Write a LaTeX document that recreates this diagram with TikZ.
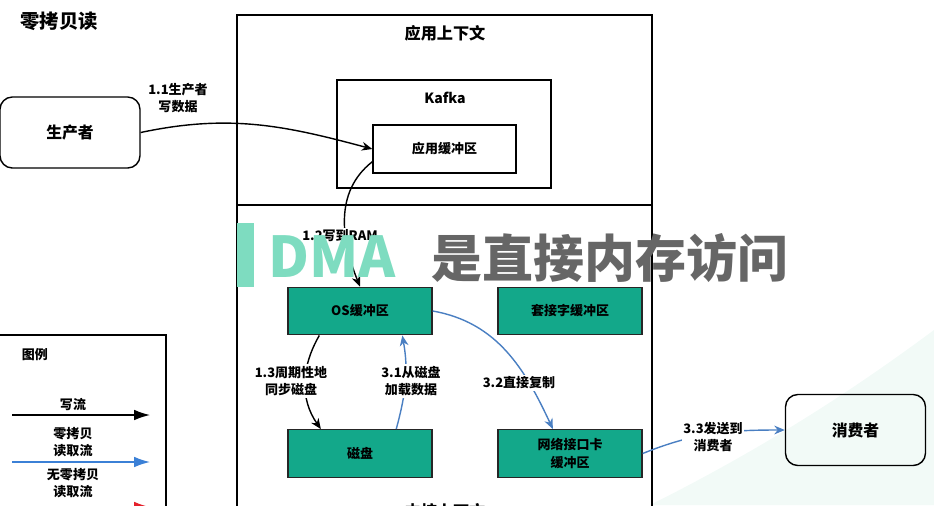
\documentclass[tikz,border=0pt]{standalone}
\usepackage{fontspec}
\setmainfont{Noto Sans CJK SC}
\usepackage{xcolor}
\usetikzlibrary{shapes,positioning,arrows.meta}
\definecolor{bufgreen}{HTML}{13A88A}
\definecolor{readblue}{HTML}{4A7FC2}
\definecolor{legblue}{HTML}{3B80D6}
\definecolor{legred}{HTML}{E5202A}
\definecolor{dmagreen}{HTML}{7EDCC0}
\definecolor{dmagrey}{HTML}{666666}
\definecolor{bgmint}{HTML}{F2FAF7}
\tikzset{
  box/.style={rectangle,draw,line width=0.8pt,inner sep=0pt},
  actor/.style={rectangle,rounded corners=7pt,draw,line width=0.8pt,minimum width=2.8cm,minimum height=1.42cm,font=\fontsize{9}{11}\selectfont\bfseries},
  buf/.style={rectangle,draw=black!85,fill=bufgreen,line width=0.8pt,minimum width=2.88cm,minimum height=0.95cm,align=center,font=\fontsize{7.4}{10}\selectfont\bfseries},
  lbl/.style={fill=white,inner sep=1pt,align=center,font=\fontsize{7.4}{10}\selectfont\bfseries},
  title/.style={font=\fontsize{9.2}{11}\selectfont\bfseries}
}
\begin{document}
\begin{tikzpicture}[>={Stealth[length=6pt,width=5pt]},x=0.02cm,y=-0.02cm,line width=0.8pt]
        \useasboundingbox (0,0) rectangle (934,505);
        \clip (0,0) rectangle (934,505);
        \fill[bgmint] (650,505) .. controls (770,445) and (860,385) .. (934,330) -- (934,505) -- cycle;

        % contexts
        \node[box,minimum width=8.3cm,minimum height=3.8cm] (app) at (444.5,110) {};
        \node[box,minimum width=8.3cm,minimum height=7.1cm] (kernel) at (444.5,382.5) {};
        \node[title] (apptitle) at (445,33) {应用上下文};
        \node[title] (kerneltitle) at (445,511) {内核上下文};
        \node[box,minimum width=4.28cm,minimum height=2.16cm] (kafka) at (444,134) {};
        \node[font=\fontsize{8}{10}\selectfont\bfseries] (kafkatitle) at (445,98) {Kafka};
        \node[box,minimum width=2.86cm,minimum height=0.96cm,font=\fontsize{7.4}{10}\selectfont\bfseries] (appbuf) at (444.5,149) {应用缓冲区};

        % buffers
        \node[buf] (os) at (360,311) {OS缓冲区};
        \node[buf] (sock) at (570,311) {套接字缓冲区};
        \node[buf] (disk) at (360,453.5) {磁盘};
        \node[buf] (nic) at (570,453.5) {网络接口卡\\缓冲区};

        % actors
        \node[actor] (prod) at (70,132.5) {生产者};
        \node[actor] (cons) at (855.5,430) {消费者};
        \node[font=\fontsize{11}{13}\selectfont\bfseries] (maintitle) at (59,21) {零拷贝读};

        % flows
        \draw [->] (prod.east) to [out=12,in=165] (appbuf.west);
        \draw [->] (appbuf.190) to [out=218,in=112] (os.north);
        \draw [->] (os.211) to [out=240,in=125] (disk.148);
        \draw [->,readblue] (disk.34) to [out=75,in=-80] (os.330);
        \draw [->,readblue] (os.east) to [out=-10,in=115] (nic.125);
        \draw [->,readblue] (nic.east) to [out=22,in=180] (cons.west);

        \node[lbl,fill=none] (l11) at (178,98) {1.1生产者\\写数据};
        \node[lbl] (l12) at (340,236) {1.2写到RAM};
        \node[lbl] (l13) at (291,381) {1.3周期性地\\同步磁盘};
        \node[lbl] (l31) at (411,381) {3.1从磁盘\\加载数据};
        \node[lbl] (l32) at (519,383) {3.2直接复制};
        \node[lbl] (l33) at (713,437) {3.3发送到\\消费者};

        % legend
        \node[box,minimum width=3.36cm,minimum height=4.4cm] (legend) at (82,445) {};
        \node[lbl,fill=none] (legtitle) at (35,355) {图例};
        \node[lbl,fill=none] (legwrite) at (73,405) {写流};
        \node[lbl,fill=none] (legzero) at (73,442) {零拷贝\\读取流};
        \node[lbl,fill=none] (legcopy) at (73,483) {无零拷贝\\读取流};
        \coordinate (w1) at (12,415); \coordinate (w2) at (150,415);
        \coordinate (z1) at (12,462); \coordinate (z2) at (150,462);
        \coordinate (c1) at (12,507); \coordinate (c2) at (150,507);
        \draw [-{Latex[length=9pt,width=6pt]}] (w1) -- (w2);
        \draw [-{Latex[length=9pt,width=6pt]},legblue] (z1) -- (z2);
        \draw [-{Latex[length=9pt,width=6pt]},legred] (c1) -- (c2);

        % subtitle overlay
        \fill[dmagreen] (237,223) rectangle (254,287);
        \node[text=dmagreen,font=\fontsize{32}{34}\selectfont\bfseries,inner sep=0pt,anchor=west] (dma) at (268,257) {DMA};
        \node[text=dmagrey,font=\fontsize{29}{32}\selectfont\bfseries,inner sep=0pt,anchor=west] (dmatext) at (431,258) {是直接内存访问};
    \end{tikzpicture}
\end{document}
